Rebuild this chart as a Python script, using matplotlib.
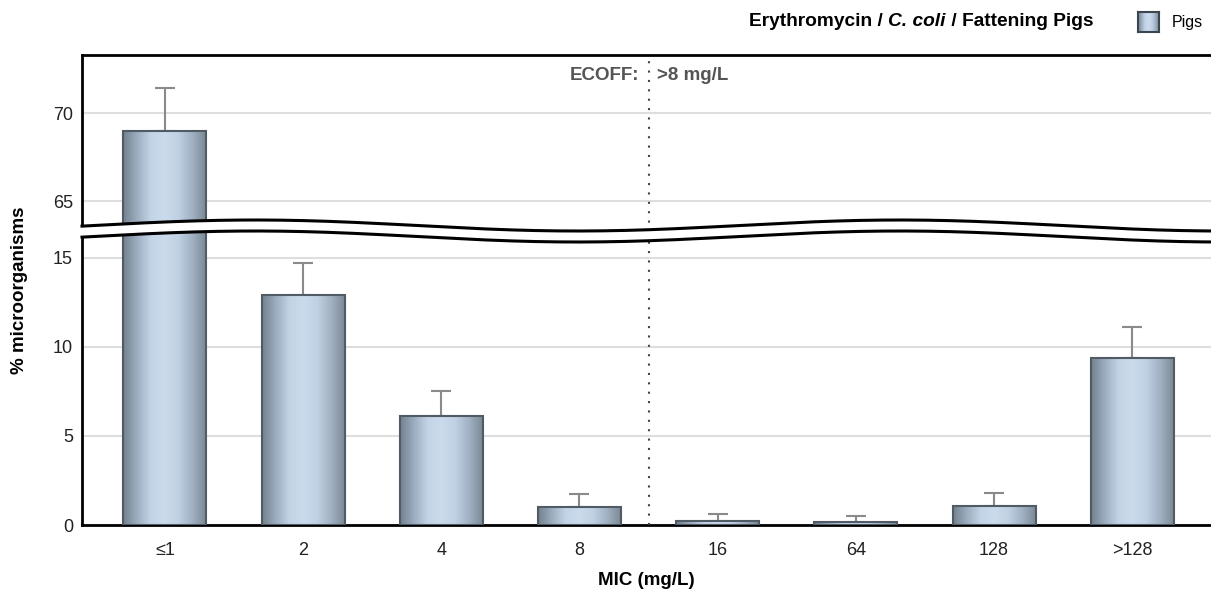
import numpy as np
import matplotlib
matplotlib.use("Agg")
import matplotlib.pyplot as plt
from matplotlib.colors import LinearSegmentedColormap
from matplotlib.patches import Polygon
from matplotlib.lines import Line2D

plt.rcParams['font.family'] = ['Liberation Sans', 'DejaVu Sans']

# data
mic_labels = ["≤1", "2", "4", "8", "16", "64", "128", ">128"]
pct = [69.0, 12.9, 6.1, 1.0, 0.2, 0.15, 1.05, 9.4]
err_top = [71.4, 14.7, 7.5, 1.75, 0.62, 0.5, 1.8, 11.1]
ecoff_pos = 3.5

W, H = 1211, 590
fig = plt.figure(figsize=(W / 100, H / 100), dpi=100)

def fx(px):
    return px / W

def fy(py):
    return 1 - py / H

left, right = 82, 1211
top_px, split_px, bottom_px = 55, 232, 525
ax_top = fig.add_axes([fx(left), fy(split_px), fx(right - left), (split_px - top_px) / H])
ax_bot = fig.add_axes([fx(left), fy(bottom_px), fx(right - left), (bottom_px - split_px) / H])
ax_top.set_ylim(63.24, 73.3)
ax_bot.set_ylim(0, 16.46)

bar_cmap = LinearSegmentedColormap.from_list(
    "bar", ["#74828f", "#9cadc0", "#c3d4e7", "#cbdbec", "#c0d1e4", "#a2b2c4", "#7c8a96"])
grad = np.linspace(0, 1, 200).reshape(1, -1)
x = np.arange(len(mic_labels))
yerr = [np.zeros(len(pct)), np.array(err_top) - np.array(pct)]

for ax in (ax_top, ax_bot):
    lo, hi = ax.get_ylim()
    bars = ax.bar(x, pct, width=0.6, facecolor="none", edgecolor="#505b66", linewidth=1.5, zorder=3)
    for b in bars:
        y0, y1 = max(0, lo), min(b.get_height(), hi)
        if y1 > y0:
            ax.imshow(grad, cmap=bar_cmap, aspect="auto", zorder=2,
                      extent=(b.get_x(), b.get_x() + b.get_width(), y0, y1))
    ax.errorbar(x, pct, yerr=yerr, fmt="none", ecolor="#8a8a8a", elinewidth=1.5,
                capsize=7.2, capthick=1.5, zorder=1)
    ax.axvline(ecoff_pos, color="#444444", linestyle=(0, (1, 3.5)), linewidth=1.5, zorder=4)
    ax.grid(axis="y", color="#dedede", linewidth=1.5, zorder=0)
    ax.set_axisbelow(True)
    ax.set_xlim(-0.6, 7.57)
    ax.set_ylim(lo, hi)
    ax.tick_params(length=0, labelsize=13, pad=6.5, labelcolor="#222222")
    for s in ax.spines.values():
        s.set_linewidth(2)
        s.set_color("black")
    ax.spines["right"].set_visible(False)

ax_top.set_yticks([65, 70])
ax_top.set_xticks([])
ax_top.spines["bottom"].set_visible(False)

ax_bot.set_yticks([0, 5, 10, 15])
ax_bot.set_xticks(x)
ax_bot.set_xticklabels(mic_labels)
ax_bot.spines["top"].set_visible(False)
ax_bot.tick_params(axis="x", pad=12.5)
ax_bot.set_xlabel("MIC (mg/L)", fontsize=13.5, fontweight="bold", labelpad=9)

fig.text(fx(20), fy(290), "% microorganisms", rotation=90, fontsize=13.5,
         fontweight="bold", ha="center", va="center")

# ECOFF annotation
ax_top.annotate("ECOFF:", xy=(ecoff_pos, 72.16), xytext=(-9, 0), textcoords="offset pixels",
                ha="right", va="center", fontsize=13.5, fontweight="bold", color="#555555")
ax_top.annotate(">8 mg/L", xy=(ecoff_pos, 72.16), xytext=(8, 0), textcoords="offset pixels",
                ha="left", va="center", fontsize=13.5, fontweight="bold", color="#555555")

# axis break: wavy white band with black edges
xs = np.linspace(left, right, 300)
upper = 225.5 - 5.5 * np.cos(2 * np.pi * (xs - 255) / 645)
lower = upper + 11
bx = np.r_[xs, xs[::-1]]
bx = np.where(bx == left, left - 3, bx)
by = np.r_[upper, lower[::-1]]
fig.add_artist(Polygon(np.column_stack([fx(bx), fy(by)]), closed=True, facecolor="white",
                       edgecolor="none", transform=fig.transFigure, zorder=5))
for curve in (upper, lower):
    fig.add_artist(Line2D(fx(xs), fy(curve), color="black", linewidth=2.2,
                          transform=fig.transFigure, zorder=6))

# title with italic species name
title_y = fy(22)
t1 = fig.text(fx(749), title_y, "Erythromycin / ", fontsize=13.8, fontweight="bold", va="center")
t2 = fig.text(0, title_y, "C. coli", fontsize=13.8, fontweight="bold", style="italic", va="center")
t3 = fig.text(0, title_y, " / Fattening Pigs", fontsize=13.8, fontweight="bold", va="center")
fig.canvas.draw()
r = fig.canvas.get_renderer()
t2.set_x(t1.get_window_extent(r).x1 / fig.bbox.width)
fig.canvas.draw()
t3.set_x(t2.get_window_extent(r).x1 / fig.bbox.width)

# legend swatch
lax = fig.add_axes([fx(1138), fy(32), fx(21), 20 / H])
lax.imshow(grad, cmap=bar_cmap, aspect="auto")
lax.set_xticks([])
lax.set_yticks([])
for s in lax.spines.values():
    s.set_color("#3b4650")
    s.set_linewidth(1.5)
fig.text(fx(1172), fy(23), "Pigs", fontsize=11.5, va="center")

fig.savefig("out.png", dpi=100)
